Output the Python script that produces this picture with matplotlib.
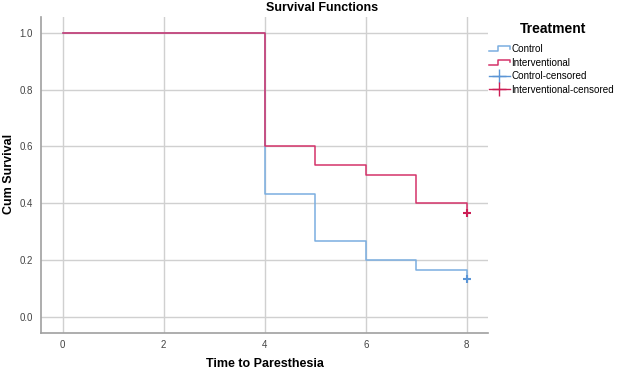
import matplotlib.pyplot as plt
import numpy as np
from matplotlib.lines import Line2D
from matplotlib.legend_handler import HandlerBase

plt.rcParams['font.family'] = ['Liberation Sans', 'DejaVu Sans']

# Kaplan-Meier step values (time, cumulative survival)
times = [0, 4, 5, 6, 7, 8]
control = [1.0, 0.4333, 0.2667, 0.2, 0.1667, 0.1333]
interventional = [1.0, 0.6, 0.5333, 0.5, 0.4, 0.3667]
censor_time = 8
control_censored = [0.1333]
interventional_censored = [0.3667]

c_blue = '#7aaee0'
c_red = '#d4336a'


class StepHandler(HandlerBase):
    def create_artists(self, legend, orig, xd, yd, w, h, fontsize, trans):
        xs = [xd, xd + w * 0.45, xd + w * 0.45, xd + w, xd + w]
        ys = [yd + h * 0.1, yd + h * 0.1, yd + h * 0.85, yd + h * 0.85, yd + h * 0.45]
        ln = Line2D(xs, ys, color=orig.get_color(), lw=1.1, transform=trans)
        return [ln]


class CensorHandler(HandlerBase):
    def create_artists(self, legend, orig, xd, yd, w, h, fontsize, trans):
        ln = Line2D([xd, xd + w], [yd + h / 2, yd + h / 2], color=orig.get_color(),
                    lw=1.0, transform=trans)
        mk = Line2D([xd + w / 2], [yd + h / 2], color=orig.get_color(), marker='+',
                    markersize=10, mew=1.0, ls='none', transform=trans)
        return [ln, mk]


fig = plt.figure(figsize=(6.17, 3.72), dpi=100)
ax = fig.add_axes([41 / 617, 1 - 332.7 / 372, (488 - 41) / 617, (332.7 - 17) / 372])

h1, = ax.step(times, control, where='post', color=c_blue, lw=1.1)
h2, = ax.step(times, interventional, where='post', color=c_red, lw=1.1)
h3, = ax.plot([censor_time] * len(control_censored), control_censored, ls='none',
              marker='+', color='#5b95d6', markersize=6, mew=1.5)
h4, = ax.plot([censor_time] * len(interventional_censored), interventional_censored,
              ls='none', marker='+', color='#cc1e55', markersize=6, mew=1.5)

ax.set_xlim(-0.43, 8.42)
ax.set_ylim(-0.055, 1.055)
ax.set_xticks([0, 2, 4, 6, 8])
ax.set_yticks([0.0, 0.2, 0.4, 0.6, 0.8, 1.0])
ax.set_yticklabels(['0.0', '0.2', '0.4', '0.6', '0.8', '1.0'])
ax.grid(True, color='#d0d0d0', lw=1.0)
ax.set_axisbelow(True)
for s in ['top', 'right']:
    ax.spines[s].set_visible(False)
for s in ['left', 'bottom']:
    ax.spines[s].set_color('#a0a0a0')
    ax.spines[s].set_linewidth(1.2)
ax.tick_params(length=0, labelsize=7, colors='#444444')
ax.tick_params(axis='x', pad=5)
ax.tick_params(axis='y', pad=6)

fig.text(265 / 617, 1 - 364 / 372, 'Time to Paresthesia', ha='center', va='center',
         fontsize=9, fontweight='bold')
fig.text(9 / 617, 1 - 174 / 372, 'Cum Survival', ha='center', va='center',
         rotation=90, fontsize=9, fontweight='bold')
fig.text(322 / 617, 1 - 8 / 372, 'Survival Functions', ha='center', va='center',
         fontsize=9, fontweight='bold')
fig.text(553 / 617, 1 - 29 / 372, 'Treatment', ha='center', va='center',
         fontsize=10, fontweight='bold')

leg = fig.legend([h1, h2, h3, h4],
                 ['Control', 'Interventional', 'Control-censored', 'Interventional-censored'],
                 handler_map={h1: StepHandler(), h2: StepHandler(),
                              h3: CensorHandler(), h4: CensorHandler()},
                 loc='upper left', bbox_to_anchor=(489 / 617, 1 - 44 / 372),
                 frameon=False, fontsize=7.1,
                 handlelength=2.1, handletextpad=0.15, labelspacing=0.36,
                 borderaxespad=0, borderpad=0)

fig.savefig('out.png', dpi=100)
